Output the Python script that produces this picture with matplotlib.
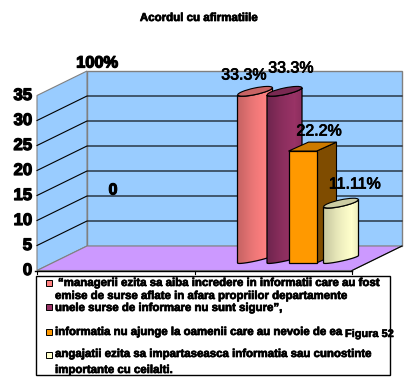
import numpy as np
import matplotlib
matplotlib.use("Agg")
import matplotlib.pyplot as plt
from matplotlib.patches import Polygon, Ellipse, Rectangle, PathPatch
from matplotlib.path import Path
from matplotlib.colors import LinearSegmentedColormap
import matplotlib.patheffects as pe

plt.rcParams['font.family'] = ['Liberation Sans', 'DejaVu Sans']

title = "Acordul cu afirmatiile"
yticks = [0, 5, 10, 15, 20, 25, 30, 35]
values = [33.3, 33.3, 22.2, 11.11]
labels = ["33.3%", "33.3%", "22.2%", "11.11%"]
empty_label = "0"
full_label = "100%"
note = "Figura 52"
legend_lines = [
    "\u201cmanagerii ezita sa aiba incredere in informatii care au fost",
    "emise de surse aflate in afara propriilor departamente",
    "unele surse de informare nu sunt sigure\u201d,",
    "informatia nu ajunge la oamenii care au nevoie de ea",
    "angajatii ezita sa impartaseasca informatia sau cunostinte",
    "importante cu ceilalti.",
]

WALL = "#99CCFF"
FLOOR = "#CC99FF"
EDGE = "#808080"

fig = plt.figure(figsize=(4.13, 3.79), dpi=100)
ax = fig.add_axes([0, 0, 1, 1])
ax.set_xlim(0, 413)
ax.set_ylim(379, 0)
ax.axis("off")

# box frame, pixels
fx0, fx1, fy0 = 37, 352, 270.5
dx, dy = 50, 24.5
k = 5.0


def front_y(v):
    return fy0 - v * k


def bar_y(v):
    return 263 - v * 5.04


def heavy(w):
    return [pe.withStroke(linewidth=w, foreground="black")]


ax.add_patch(Polygon([(fx0 + dx, front_y(35) - dy), (fx1 + dx, front_y(35) - dy),
                      (fx1 + dx, fy0 - dy), (fx0 + dx, fy0 - dy)],
                     fc=WALL, ec=EDGE, lw=1, zorder=1))
ax.add_patch(Polygon([(fx0, front_y(35)), (fx0 + dx, front_y(35) - dy),
                      (fx0 + dx, fy0 - dy), (fx0, fy0)],
                     fc=WALL, ec=EDGE, lw=0.8, zorder=1))
ax.add_patch(Polygon([(fx0, fy0), (fx0 + dx, fy0 - dy), (fx1 + dx, fy0 - dy), (fx1, fy0)],
                     fc=FLOOR, ec=EDGE, lw=0.8, zorder=1))

for v in yticks[1:-1]:
    y = front_y(v)
    ax.plot([fx0, fx0 + dx, fx1 + dx], [y, y - dy, y - dy], color="black", lw=0.8, zorder=2)
ax.plot([fx0 - 2, fx1], [fy0 + 0.5, fy0 + 0.5], color="black", lw=1, zorder=3)
ax.plot([fx1, fx1 + dx], [fy0, fy0 - dy], color="black", lw=0.8, zorder=3)
for x in [fx0, (fx0 + fx1) / 2, fx1]:
    ax.plot([x, x], [fy0, fy0 + 3], color="black", lw=0.8, zorder=3)

for v in yticks:
    ax.text(32, front_y(v), str(v), ha="right", va="center", fontsize=12, fontweight="bold",
            path_effects=heavy(0.9))


def cylinder(x0, x1, v, c0, c1, top_c, z):
    # skewed cylinder, tips of the ellipse rise towards the right
    w = x1 - x0
    top = bar_y(v)
    t = np.linspace(0, np.pi, 40)
    ex = x0 + w / 2 - w / 2 * np.cos(t)
    bump = 3.2 * np.sin(t)
    tilt = 7.5 * (ex - x0) / w
    low = list(zip(ex, 263 - tilt + bump * 0.6))
    up = list(zip(ex[::-1], (top - tilt + bump)[::-1]))
    path = Path(low + up + [low[0]])
    grad = np.array([[0, .25, .5, .7, .85, 1, .75]])
    cm = LinearSegmentedColormap.from_list("c", [c0, c1])
    im = ax.imshow(grad, extent=(x0, x1, 263, top - 10), cmap=cm, aspect="auto",
                   interpolation="bilinear", zorder=z)
    ax.set_xlim(0, 413)
    ax.set_ylim(379, 0)
    patch = PathPatch(path, fc="none", ec="black", lw=0.9, zorder=z + 0.1)
    ax.add_patch(patch)
    im.set_clip_path(patch)
    ax.add_patch(Ellipse((x0 + w / 2, top - tilt[20]), w * 1.01, 6.5, angle=-12,
                         fc=top_c, ec="black", lw=0.8, zorder=z + 0.2))


def box(x0, x1, v, front_c, top_c, side_c, z):
    top = bar_y(v)
    ax.add_patch(Polygon([(x1, top), (x1 + 20, top - 9), (x1 + 20, 263 - 9), (x1, 263)],
                         fc=side_c, ec="black", lw=0.8, zorder=z))
    ax.add_patch(Polygon([(x0, top), (x0 + 20, top - 9), (x1 + 20, top - 9), (x1, top)],
                         fc=top_c, ec="black", lw=0.8, zorder=z))
    ax.add_patch(Rectangle((x0, top), x1 - x0, 263 - top, fc=front_c, ec="black", lw=0.9, zorder=z + 0.1))


cylinder(237.5, 272.5, values[0], "#CC6666", "#FF8080", "#C86464", 4)
cylinder(267, 302, values[1], "#732650", "#993366", "#7A2952", 5)
box(288.5, 316.5, values[2], "#FF9900", "#CC7A00", "#7F4C00", 6)
cylinder(323.5, 358.5, values[3], "#CCCCA3", "#FFFFCC", "#CCCCA3", 7)

lab_x = [244, 291, 319, 355]
lab_y = [75, 68, 131, 184]
for x, y, s in zip(lab_x, lab_y, labels):
    ax.text(x, y, s, ha="center", va="center", fontsize=11.5, color="black", zorder=10,
            path_effects=heavy(0.6))
ax.text(113, 190, empty_label, ha="center", va="center", fontsize=11.5, fontweight="bold", zorder=10,
        path_effects=heavy(0.8))
ax.text(97, 63, full_label, ha="center", va="center", fontsize=11.8, fontweight="bold", zorder=10,
        path_effects=heavy(0.9))
ax.text(199, 18, title, ha="center", va="center", fontsize=8.3, fontweight="bold", zorder=10,
        path_effects=heavy(0.5))

# legend box
ax.add_patch(Rectangle((35.5, 275.5), 354, 99, fc="white", ec="black", lw=1, zorder=8))
marker_y = [283, 307, 332, 355]
marker_c = ["#FF8080", "#993366", "#FF9900", "#FFFFCC"]
for y, c in zip(marker_y, marker_c):
    ax.add_patch(Rectangle((45.5, y - 3), 6, 6, fc=c, ec="black", lw=0.7, zorder=9))
line_x = [58, 55, 55, 55, 55, 55]
line_y = [283, 296, 308, 332, 354, 370]
for x, y, s in zip(line_x, line_y, legend_lines):
    ax.text(x, y, s, ha="left", va="center", fontsize=8.25, fontweight="bold", zorder=10,
            path_effects=heavy(0.5))
ax.text(345, 334, note, ha="left", va="center", fontsize=7.9, fontweight="bold", zorder=11,
        path_effects=heavy(0.4))

fig.savefig("out.png", dpi=100, facecolor="white")
